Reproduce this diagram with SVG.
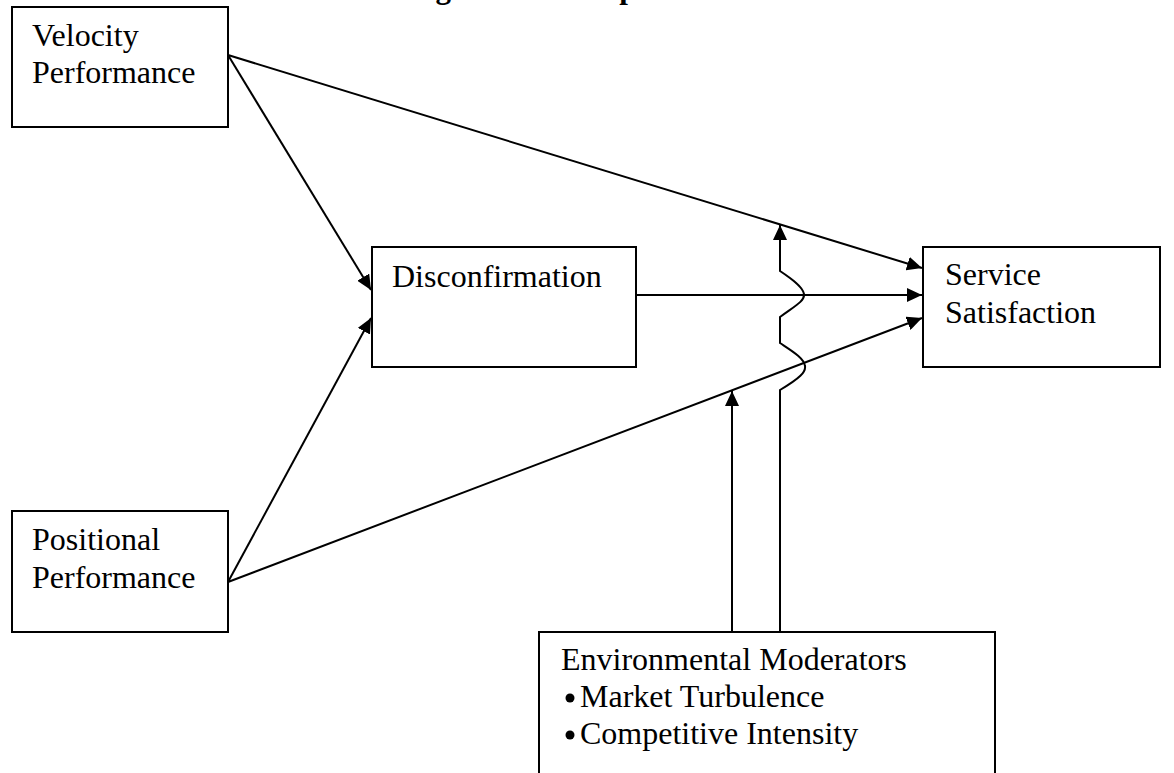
<svg xmlns="http://www.w3.org/2000/svg" width="1174" height="773" viewBox="0 0 1174 773">
<style>
.box{fill:#fff;stroke:#000;stroke-width:2}
.t{font-family:"Liberation Serif","Times New Roman",serif;font-size:32px;fill:#000}
.title{font-family:"Liberation Serif","Times New Roman",serif;font-size:31px;font-weight:bold;fill:#000}
.c{fill:none;stroke:#000;stroke-width:2}
</style>
<defs>
<marker id="ah" markerUnits="userSpaceOnUse" markerWidth="16" markerHeight="14" refX="15" refY="7" orient="auto">
<path d="M0,0 L15,7 L0,14 z" fill="#000"/>
</marker>
</defs>
<rect width="1174" height="773" fill="#fff"/>
<text class="title" x="408" y="-2">Figure 1: Conceptual Model</text>
<g id="connectors">
<line class="c" x1="228" y1="55" x2="922" y2="268" marker-end="url(#ah)"/>
<line class="c" x1="228" y1="55" x2="371" y2="290" marker-end="url(#ah)"/>
<line class="c" x1="228" y1="582" x2="371" y2="318" marker-end="url(#ah)"/>
<line class="c" x1="228" y1="582" x2="922" y2="318" marker-end="url(#ah)"/>
<line class="c" x1="636" y1="295" x2="922" y2="295" marker-end="url(#ah)"/>
<line class="c" x1="732" y1="632" x2="732" y2="391" marker-end="url(#ah)"/>
<path class="c" d="M780,632 L780,390 C800,378 806,372 805,366 C804,358 792,351 780,343 L780,317 C795,306 805,301 804,294 C803,287 792,279 780,271 L780,225" marker-end="url(#ah)"/>
</g>
<g id="velocity">
<rect class="box" x="12" y="7" width="216" height="120"/>
<text class="t" x="32" y="46">Velocity</text>
<text class="t" x="32" y="83">Performance</text>
</g>
<g id="positional">
<rect class="box" x="12" y="511" width="216" height="121"/>
<text class="t" x="32" y="550">Positional</text>
<text class="t" x="32" y="588">Performance</text>
</g>
<g id="disconfirmation">
<rect class="box" x="372" y="247" width="264" height="120"/>
<text class="t" x="392" y="287">Disconfirmation</text>
</g>
<g id="satisfaction">
<rect class="box" x="923" y="247" width="237" height="120"/>
<text class="t" x="945" y="285">Service</text>
<text class="t" x="945" y="323">Satisfaction</text>
</g>
<g id="moderators">
<path class="box" d="M539,780 L539,632 L995,632 L995,780"/>
<text class="t" x="561" y="670">Environmental Moderators</text>
<circle cx="570" cy="698" r="4.5" fill="#000"/>
<text class="t" x="580" y="707">Market Turbulence</text>
<circle cx="570" cy="735" r="4.5" fill="#000"/>
<text class="t" x="580" y="744">Competitive Intensity</text>
</g>
</svg>
